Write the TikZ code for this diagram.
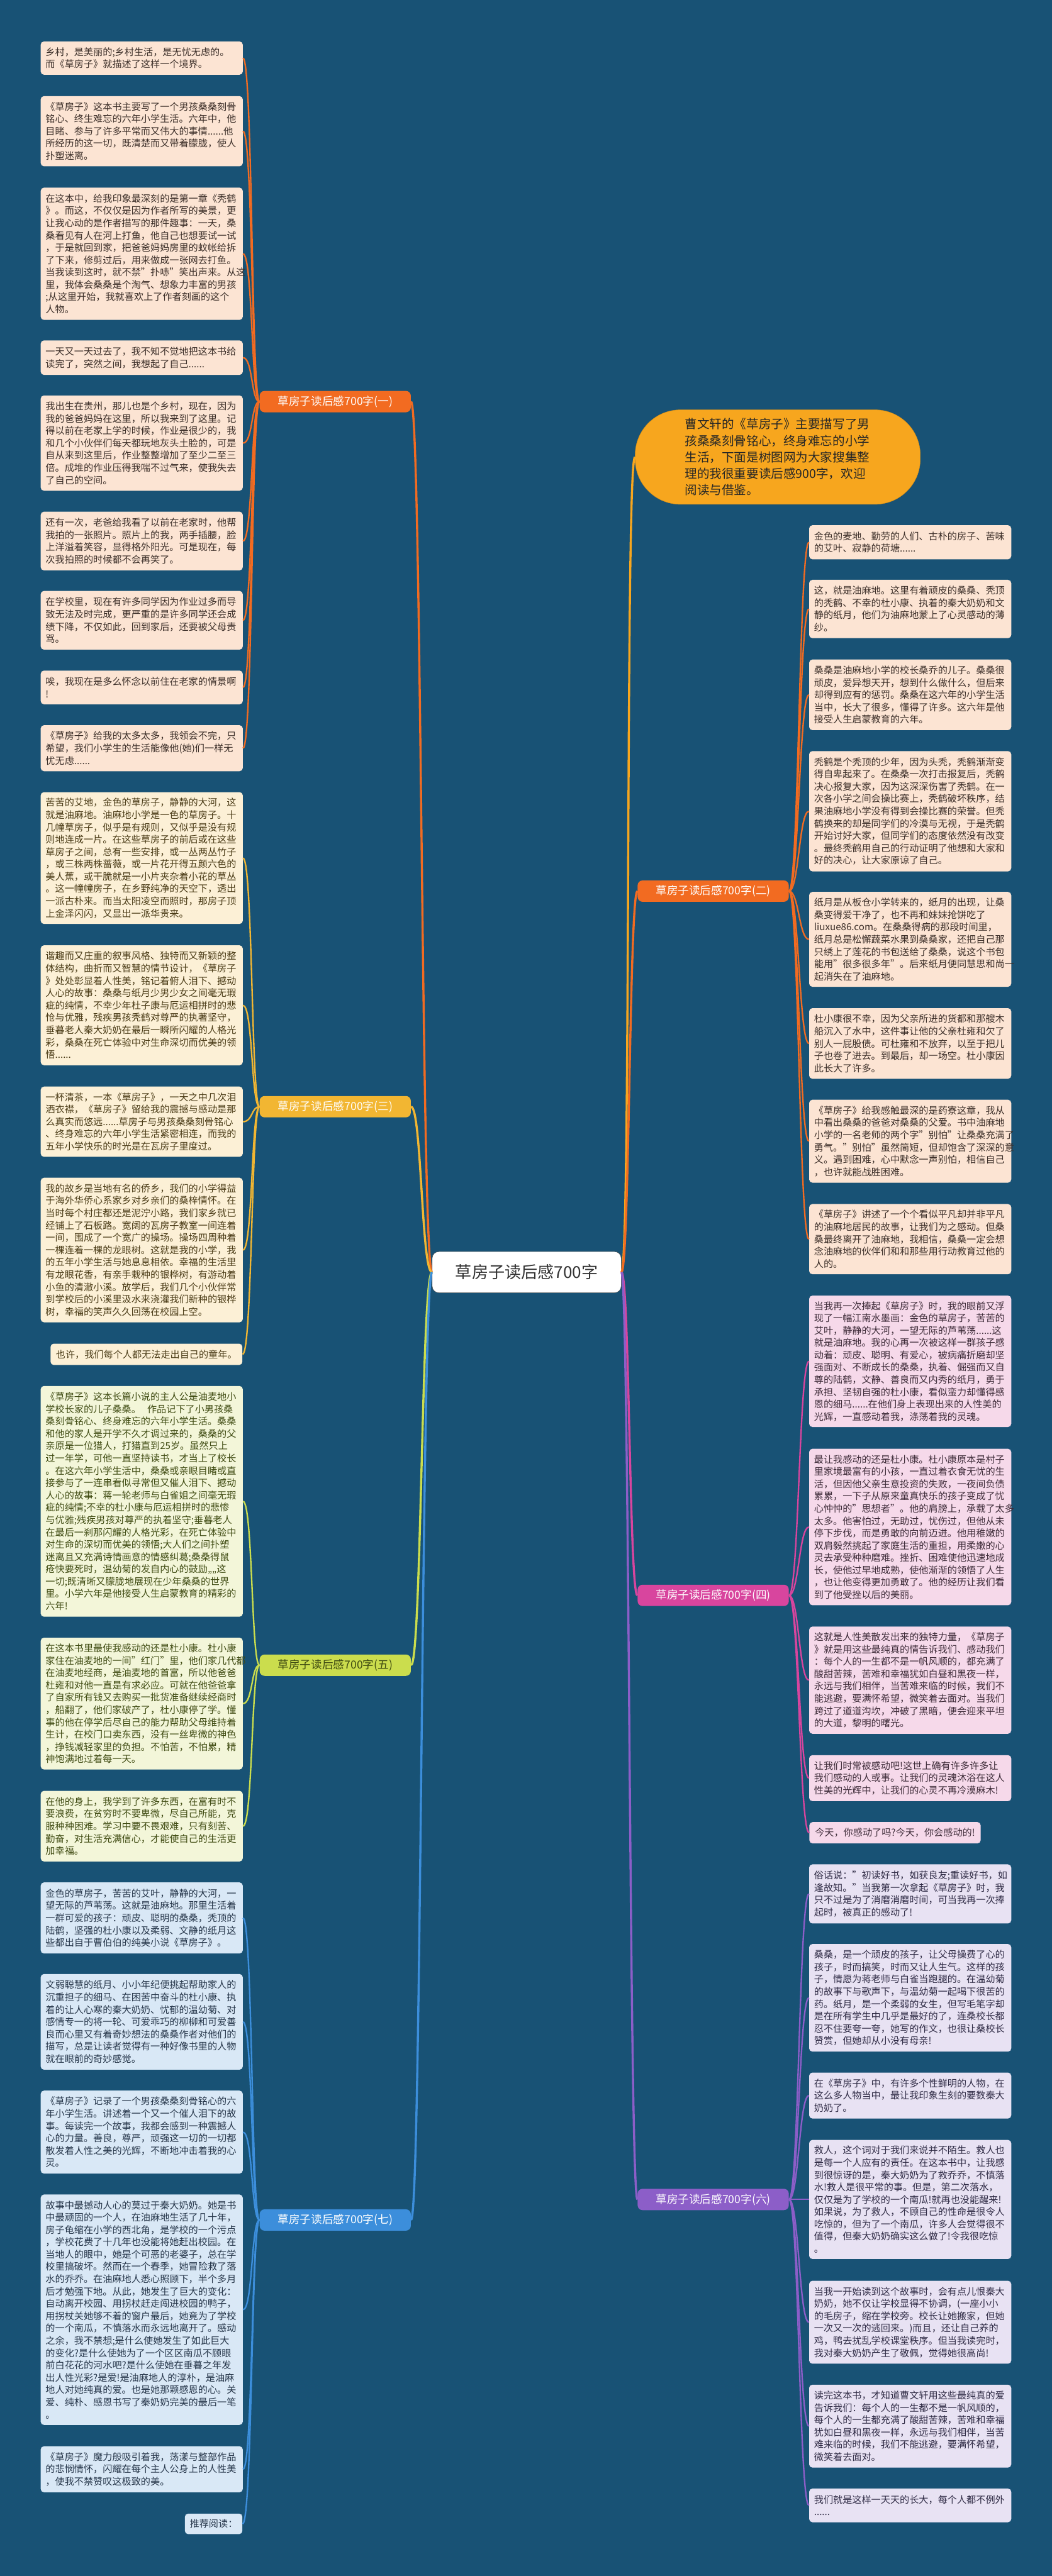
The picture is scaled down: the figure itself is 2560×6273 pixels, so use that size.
\documentclass[tikz,border=0pt]{standalone}
\usepackage{fontspec}
\setmainfont{Noto Sans CJK SC}
\definecolor{bgc}{HTML}{185275}
\definecolor{cO}{HTML}{F26B21}
\definecolor{cY}{HTML}{F2B632}
\definecolor{cG}{HTML}{CBDD4D}
\definecolor{cB}{HTML}{3C8EDB}
\definecolor{cP}{HTML}{D8459E}
\definecolor{cL}{HTML}{8C5EC8}
\definecolor{cI}{HTML}{F7A61E}
\definecolor{fO}{HTML}{FCE4D3}
\definecolor{fY}{HTML}{FCF0D6}
\definecolor{fG}{HTML}{F3F6D9}
\definecolor{fB}{HTML}{D9E8F6}
\definecolor{fP}{HTML}{F6D9EA}
\definecolor{fL}{HTML}{E8E2F3}
\definecolor{tO}{HTML}{3B2E28}
\definecolor{tY}{HTML}{4A3B16}
\definecolor{tG}{HTML}{3F4B12}
\definecolor{tB}{HTML}{26364A}
\definecolor{tP}{HTML}{3D2B38}
\definecolor{tL}{HTML}{2F2B45}
\tikzset{
  kid/.style={rounded corners=4pt, inner xsep=6pt, inner ysep=0pt,
    font=\fontsize{11.6pt}{15pt}\selectfont, text width=234pt, align=left},
  kidshort/.style={rounded corners=4pt, inner xsep=6pt, inner ysep=0pt,
    font=\fontsize{11.6pt}{15pt}\selectfont, align=center},
  kO/.style={fill=fO, text=tO},
  kY/.style={fill=fY, text=tY},
  kG/.style={fill=fG, text=tG},
  kB/.style={fill=fB, text=tB},
  kP/.style={fill=fP, text=tP},
  kL/.style={fill=fL, text=tL},
  branch/.style={rounded corners=6pt, minimum width=184pt, minimum height=26pt,
    inner sep=2pt, font=\fontsize{13.5pt}{16pt}\selectfont, text=white},
  lnk/.style={line width=1.8pt},
  trunk/.style={line width=2.6pt},
}
\newcommand\kidbox[7]{%
  \pgfmathsetmacro\kw{(#4-#3)*0.5}%
  \pgfmathsetmacro\kh{(#6-#5)*0.5}%
  \node[#2, minimum width=\kw pt, minimum height=\kh pt] (#1) at ({(#3+#4)/2},{(#5+#6)/2}) {#7};}
\begin{document}
\begin{tikzpicture}[x=0.5pt,y=-0.5pt]
\useasboundingbox (0,0) rectangle (2560,6273);
\fill[bgc] (0,0) rectangle (2560,6273);

% centre and intro
\node[draw=black!70, fill=white, rounded corners=8pt, minimum width=230pt, minimum height=50pt,
  font=\fontsize{20pt}{24pt}\selectfont, text=black!80] (c) at (1282,3098) {草房子读后感700字};
\node[draw=cI!85!black, fill=cI, rounded corners=55pt, minimum width=347pt, minimum height=115pt,
  text width=226pt, align=left, font=\fontsize{15pt}{20pt}\selectfont, text=black!85] (intro) at (1893,1113)
  {曹文轩的《草房子》主要描写了男\\孩桑桑刻骨铭心，终身难忘的小学\\生活，下面是树图网为大家搜集整\\理的我很重要读后感900字，欢迎\\阅读与借鉴。};

% branch nodes
\node[branch, fill=cO] (b1) at (816,978) {草房子读后感700字(一)};
\node[branch, fill=cY] (b3) at (816,2695) {草房子读后感700字(三)};
\node[branch, fill=cG, text=tG] (b5) at (816,4055) {草房子读后感700字(五)};
\node[branch, fill=cB] (b7) at (816,5406) {草房子读后感700字(七)};
\node[branch, fill=cO] (b2) at (1736,2170) {草房子读后感700字(二)};
\node[branch, fill=cP] (b4) at (1736,3885) {草房子读后感700字(四)};
\node[branch, fill=cL] (b6) at (1736,5356) {草房子读后感700字(六)};

% left children
\kidbox{l1}{kid,kO}{100}{590}{101}{182}{乡村，是美丽的;乡村生活，是无忧无虑的。\\而《草房子》就描述了这样一个境界。}
\kidbox{l2}{kid,kO}{100}{590}{234}{405}{《草房子》这本书主要写了一个男孩桑桑刻骨\\铭心、终生难忘的六年小学生活。六年中，他\\目睹、参与了许多平常而又伟大的事情......他\\所经历的这一切，既清楚而又带着朦胧，使人\\扑塑迷离。}
\kidbox{l3}{kid,kO}{100}{590}{457}{779}{在这本中，给我印象最深刻的是第一章《秃鹤\\》。而这，不仅仅是因为作者所写的美景，更\\让我心动的是作者描写的那件趣事：一天，桑\\桑看见有人在河上打鱼，他自己也想要试一试\\，于是就回到家，把爸爸妈妈房里的蚊帐给拆\\了下来，修剪过后，用来做成一张网去打鱼。\\当我读到这时，就不禁"扑哧"笑出声来。从这\\里，我体会桑桑是个淘气、想象力丰富的男孩\\;从这里开始，我就喜欢上了作者刻画的这个\\人物。}
\kidbox{l4}{kid,kO}{100}{590}{829}{913}{一天又一天过去了，我不知不觉地把这本书给\\读完了，突然之间，我想起了自己......}
\kidbox{l5}{kid,kO}{100}{590}{963}{1195}{我出生在贵州，那儿也是个乡村，现在，因为\\我的爸爸妈妈在这里，所以我来到了这里。记\\得以前在老家上学的时候，作业是很少的，我\\和几个小伙伴们每天都玩地灰头土脸的，可是\\自从来到这里后，作业整整增加了至少二至三\\倍。成堆的作业压得我喘不过气来，使我失去\\了自己的空间。}
\kidbox{l6}{kid,kO}{100}{590}{1246}{1389}{还有一次，老爸给我看了以前在老家时，他帮\\我拍的一张照片。照片上的我，两手插腰，脸\\上洋溢着笑容，显得格外阳光。可是现在，每\\次我拍照的时候都不会再笑了。}
\kidbox{l7}{kid,kO}{100}{590}{1439}{1582}{在学校里，现在有许多同学因为作业过多而导\\致无法及时完成，更严重的是许多同学还会成\\绩下降，不仅如此，回到家后，还要被父母责\\骂。}
\kidbox{l8}{kid,kO}{100}{590}{1633}{1715}{唉，我现在是多么怀念以前住在老家的情景啊\\!}
\kidbox{l9}{kid,kO}{100}{590}{1766}{1878}{《草房子》给我的太多太多，我领会不完，只\\希望，我们小学生的生活能像他(她)们一样无\\忧无虑......}
\kidbox{l10}{kid,kY}{100}{590}{1929}{2250}{苦苦的艾地，金色的草房子，静静的大河，这\\就是油麻地。油麻地小学是一色的草房子。十\\几幢草房子，似乎是有规则，又似乎是没有规\\则地连成一片。在这些草房子的前后或在这些\\草房子之间，总有一些安排，或一丛两丛竹子\\，或三株两株蔷薇，或一片花开得五颜六色的\\美人蕉，或干脆就是一小片夹杂着小花的草丛\\。这一幢幢房子，在乡野纯净的天空下，透出\\一派古朴来。而当太阳凌空而照时，那房子顶\\上金泽闪闪，又显出一派华贵来。}
\kidbox{l11}{kid,kY}{100}{590}{2302}{2594}{谐趣而又庄重的叙事风格、独特而又新颖的整\\体结构，曲折而又智慧的情节设计，《草房子\\》处处彰显着人性美，铭记着俯人泪下、撼动\\人心的故事：桑桑与纸月少男少女之间毫无瑕\\疵的纯情，不幸少年杜子康与厄运相拼时的悲\\怆与优雅，残疾男孩秃鹤对尊严的执著坚守，\\垂暮老人秦大奶奶在最后一瞬所闪耀的人格光\\彩，桑桑在死亡体验中对生命深切而优美的领\\悟......}
\kidbox{l12}{kid,kY}{100}{590}{2646}{2817}{一杯清茶，一本《草房子》，一天之中几次泪\\洒衣襟，《草房子》留给我的震撼与感动是那\\么真实而悠远......草房子与男孩桑桑刻骨铭心\\、终身难忘的六年小学生活紧密相连，而我的\\五年小学快乐的时光是在瓦房子里度过。}
\kidbox{l13}{kid,kY}{100}{590}{2868}{3220}{我的故乡是当地有名的侨乡，我们的小学得益\\于海外华侨心系家乡对乡亲们的桑梓情怀。在\\当时每个村庄都还是泥泞小路，我们家乡就已\\经铺上了石板路。宽阔的瓦房子教室一间连着\\一间，围成了一个宽广的操场。操场四周种着\\一棵连着一棵的龙眼树。这就是我的小学，我\\的五年小学生活与她息息相依。幸福的生活里\\有龙眼花香，有亲手栽种的银桦树，有游动着\\小鱼的清澈小溪。放学后，我们几个小伙伴常\\到学校后的小溪里汲水来浇灌我们新种的银桦\\树，幸福的笑声久久回荡在校园上空。}
\kidbox{l14}{kidshort,kY}{123}{590}{3272}{3324}{也许，我们每个人都无法走出自己的童年。}
\kidbox{l15}{kid,kG}{100}{590}{3375}{3937}{《草房子》这本长篇小说的主人公是油麦地小\\学校长家的儿子桑桑。\ \ 作品记下了小男孩桑\\桑刻骨铭心、终身难忘的六年小学生活。桑桑\\和他的家人是开学不久才调过来的，桑桑的父\\亲原是一位猎人，打猎直到25岁。虽然只上\\过一年学，可他一直坚持读书，才当上了校长\\。在这六年小学生活中，桑桑或亲眼目睹或直\\接参与了一连串看似寻常但又催人泪下、撼动\\人心的故事：蒋一轮老师与白雀姐之间毫无瑕\\疵的纯情;不幸的杜小康与厄运相拼时的悲惨\\与优雅;残疾男孩对尊严的执着坚守;垂暮老人\\在最后一刹那闪耀的人格光彩，在死亡体验中\\对生命的深切而优美的领悟;大人们之间扑塑\\迷离且又充满诗情画意的情感纠葛;桑桑得鼠\\疮快要死时，温幼菊的发自内心的鼓励,,,,这\\一切;既清晰又朦胧地展现在少年桑桑的世界\\里。小学六年是他接受人生启蒙教育的精彩的\\六年!}
\kidbox{l16}{kid,kG}{100}{590}{3988}{4309}{在这本书里最使我感动的还是杜小康。杜小康\\家住在油麦地的一间"红门"里，他们家几代都\\在油麦地经商，是油麦地的首富，所以他爸爸\\杜雍和对他一直是有求必应。可就在他爸爸拿\\了自家所有钱又去购买一批货准备继续经商时\\，船翻了，他们家破产了，杜小康停了学。懂\\事的他在停学后尽自己的能力帮助父母维持着\\生计，在校门口卖东西，没有一丝卑微的神色\\，挣钱减轻家里的负担。不怕苦，不怕累，精\\神饱满地过着每一天。}
\kidbox{l17}{kid,kG}{100}{590}{4361}{4533}{在他的身上，我学到了许多东西，在富有时不\\要浪费，在贫穷时不要卑微，尽自己所能，克\\服种种困难。学习中要不畏艰难，只有刻苦、\\勤奋，对生活充满信心，才能使自己的生活更\\加幸福。}
\kidbox{l18}{kid,kB}{100}{590}{4584}{4757}{金色的草房子，苦苦的艾叶，静静的大河，一\\望无际的芦苇荡。这就是油麻地。那里生活着\\一群可爱的孩子：顽皮、聪明的桑桑，秃顶的\\陆鹤，坚强的杜小康以及柔弱、文静的纸月这\\些都出自于曹伯伯的纯美小说《草房子》。}
\kidbox{l19}{kid,kB}{100}{590}{4807}{5040}{文弱聪慧的纸月、小小年纪便挑起帮助家人的\\沉重担子的细马、在困苦中奋斗的杜小康、执\\着的让人心寒的秦大奶奶、忧郁的温幼菊、对\\感情专一的将一轮、可爱乖巧的柳柳和可爱善\\良而心里又有着奇妙想法的桑桑作者对他们的\\描写，总是让读者觉得有一种好像书里的人物\\就在眼前的奇妙感觉。}
\kidbox{l20}{kid,kB}{100}{590}{5091}{5293}{《草房子》记录了一个男孩桑桑刻骨铭心的六\\年小学生活。讲述着一个又一个催人泪下的故\\事。每读完一个故事，我都会感到一种震撼人\\心的力量。善良，尊严，顽强这一切的一切都\\散发着人性之美的光辉，不断地冲击着我的心\\灵。}
\kidbox{l21}{kid,kB}{100}{590}{5344}{5905}{故事中最撼动人心的莫过于秦大奶奶。她是书\\中最顽固的一个人，在油麻地生活了几十年，\\房子龟缩在小学的西北角，是学校的一个污点\\，学校花费了十几年也没能将她赶出校园。在\\当地人的眼中，她是个可恶的老婆子，总在学\\校里搞破坏。然而在一个春季，她冒险救了落\\水的乔乔。在油麻地人悉心照顾下，半个多月\\后才勉强下地。从此，她发生了巨大的变化：\\自动离开校园、用拐杖赶走闯进校园的鸭子，\\用拐杖关她够不着的窗户最后，她竟为了学校\\的一个南瓜，不慎落水而永远地离开了。感动\\之余，我不禁想;是什么使她发生了如此巨大\\的变化?是什么使她为了一个区区南瓜不顾眼\\前白花花的河水吧?是什么使她在垂暮之年发\\出人性光彩?是爱!是油麻地人的淳朴，是油麻\\地人对她纯真的爱。也是她那颗感恩的心。关\\爱、纯朴、感恩书写了秦奶奶完美的最后一笔\\。}
\kidbox{l22}{kid,kB}{100}{590}{5957}{6069}{《草房子》魔力般吸引着我，荡漾与整部作品\\的悲悯情怀，闪耀在每个主人公身上的人性美\\，使我不禁赞叹这极致的美。}
\kidbox{l23}{kidshort,kB}{450}{590}{6121}{6171}{推荐阅读：}

% right children
\kidbox{r1}{kid,kO}{1970}{2461}{1279}{1362}{金色的麦地、勤劳的人们、古朴的房子、苦味\\的艾叶、寂静的荷塘......}
\kidbox{r2}{kid,kO}{1970}{2461}{1412}{1554}{这，就是油麻地。这里有着顽皮的桑桑、秃顶\\的秃鹤、不幸的杜小康、执着的秦大奶奶和文\\静的纸月，他们为油麻地蒙上了心灵感动的薄\\纱。}
\kidbox{r3}{kid,kO}{1970}{2461}{1606}{1778}{桑桑是油麻地小学的校长桑乔的儿子。桑桑很\\顽皮，爱异想天开，想到什么做什么，但后来\\却得到应有的惩罚。桑桑在这六年的小学生活\\当中，长大了很多，懂得了许多。这六年是他\\接受人生启蒙教育的六年。}
\kidbox{r4}{kid,kO}{1970}{2461}{1829}{2122}{秃鹤是个秃顶的少年，因为头秃，秃鹤渐渐变\\得自卑起来了。在桑桑一次打击报复后，秃鹤\\决心报复大家，因为这深深伤害了秃鹤。在一\\次各小学之间会操比赛上，秃鹤破坏秩序，结\\果油麻地小学没有得到会操比赛的荣誉。但秃\\鹤换来的却是同学们的冷漠与无视，于是秃鹤\\开始讨好大家，但同学们的态度依然没有改变\\。最终秃鹤用自己的行动证明了他想和大家和\\好的决心，让大家原谅了自己。}
\kidbox{r5}{kid,kO}{1970}{2461}{2172}{2403}{纸月是从板仓小学转来的，纸月的出现，让桑\\桑变得爱干净了，也不再和妹妹抢饼吃了\\liuxue86.com。在桑桑得病的那段时间里，\\纸月总是松懈蔬菜水果到桑桑家，还把自己那\\只绣上了莲花的书包送给了桑桑，说这个书包\\能用"很多很多年"。后来纸月便同慧思和尚一\\起消失在了油麻地。}
\kidbox{r6}{kid,kO}{1970}{2461}{2455}{2627}{杜小康很不幸，因为父亲所进的货都和那艘木\\船沉入了水中，这件事让他的父亲杜雍和欠了\\别人一屁股债。可杜雍和不放弃，以至于把儿\\子也卷了进去。到最后，却一场空。杜小康因\\此长大了许多。}
\kidbox{r7}{kid,kO}{1970}{2461}{2678}{2880}{《草房子》给我感触最深的是药寮这章，我从\\中看出桑桑的爸爸对桑桑的父爱。书中油麻地\\小学的一名老师的两个字"别怕"让桑桑充满了\\勇气。"别怕"虽然简短，但却饱含了深深的意\\义。遇到困难，心中默念一声别怕，相信自己\\，也许就能战胜困难。}
\kidbox{r8}{kid,kO}{1970}{2461}{2932}{3103}{《草房子》讲述了一个个看似平凡却并非平凡\\的油麻地居民的故事，让我们为之感动。但桑\\桑最终离开了油麻地，我相信，桑桑一定会想\\念油麻地的伙伴们和和那些用行动教育过他的\\人的。}
\kidbox{r9}{kid,kP}{1970}{2461}{3155}{3475}{当我再一次捧起《草房子》时，我的眼前又浮\\现了一幅江南水墨画：金色的草房子，苦苦的\\艾叶，静静的大河，一望无际的芦苇荡......这\\就是油麻地。我的心再一次被这样一群孩子感\\动着：顽皮、聪明、有爱心，被病痛折磨却坚\\强面对、不断成长的桑桑，执着、倔强而又自\\尊的陆鹤，文静、善良而又内秀的纸月，勇于\\承担、坚韧自强的杜小康，看似蛮力却懂得感\\恩的细马......在他们身上表现出来的人性美的\\光辉，一直感动着我，涤荡着我的灵魂。}
\kidbox{r10}{kid,kP}{1970}{2461}{3528}{3909}{最让我感动的还是杜小康。杜小康原本是村子\\里家境最富有的小孩，一直过着衣食无忧的生\\活，但因他父亲生意投资的失败，一夜间负债\\累累，一下子从原来童真快乐的孩子变成了忧\\心忡忡的"思想者"。他的肩膀上，承载了太多\\太多。他害怕过，无助过，忧伤过，但他从未\\停下步伐，而是勇敢的向前迈进。他用稚嫩的\\双肩毅然挑起了家庭生活的重担，用柔嫩的心\\灵去承受种种磨难。挫折、困难使他迅速地成\\长，使他过早地成熟，使他渐渐的领悟了人生\\，也让他变得更加勇敢了。他的经历让我们看\\到了他受挫以后的美丽。}
\kidbox{r11}{kid,kP}{1970}{2461}{3961}{4222}{这就是人性美散发出来的独特力量，《草房子\\》就是用这些最纯真的情告诉我们、感动我们\\：每个人的一生都不是一帆风顺的，都充满了\\酸甜苦辣，苦难和幸福犹如白昼和黑夜一样，\\永远与我们相伴，当苦难来临的时候，我们不\\能逃避，要满怀希望，微笑着去面对。当我们\\跨过了道道沟坎，冲破了黑暗，便会迎来平坦\\的大道，黎明的曙光。}
\kidbox{r12}{kid,kP}{1970}{2461}{4274}{4386}{让我们时常被感动吧!这世上确有许多许多让\\我们感动的人或事。让我们的灵魂沐浴在这人\\性美的光辉中，让我们的心灵不再冷漠麻木!}
\kidbox{r13}{kidshort,kP}{1970}{2387}{4437}{4489}{今天，你感动了吗?今天，你会感动的!}
\kidbox{r14}{kid,kL}{1970}{2461}{4540}{4684}{俗话说："初读好书，如获良友;重读好书，如\\逢故知。"当我第一次拿起《草房子》时，我\\只不过是为了消磨消磨时间，可当我再一次捧\\起时，被真正的感动了!}
\kidbox{r15}{kid,kL}{1970}{2461}{4734}{4996}{桑桑，是一个顽皮的孩子，让父母操费了心的\\孩子，时而搞笑，时而又让人生气。这样的孩\\子，情愿为蒋老师与白雀当跑腿的。在温幼菊\\的故事下与歌声下，与温幼菊一起喝下很苦的\\药。纸月，是一个柔弱的女生，但写毛笔字却\\是在所有学生中几乎是最好的了，连桑校长都\\忍不住要夸一夸，她写的作文，也很让桑校长\\赞赏，但她却从小没有母亲!}
\kidbox{r16}{kid,kL}{1970}{2461}{5047}{5159}{在《草房子》中，有许多个性鲜明的人物，在\\这么多人物当中，最让我印象生刻的要数秦大\\奶奶了。}
\kidbox{r17}{kid,kL}{1970}{2461}{5211}{5501}{救人，这个词对于我们来说并不陌生。救人也\\是每一个人应有的责任。在这本书中，让我感\\到很惊讶的是，秦大奶奶为了救乔乔，不慎落\\水!救人是很平常的事。但是，第二次落水，\\仅仅是为了学校的一个南瓜!就再也没能醒来!\\如果说，为了救人，不顾自己的性命是很令人\\吃惊的，但为了一个南瓜，许多人会觉得很不\\值得，但秦大奶奶确实这么做了!令我很吃惊\\。}
\kidbox{r18}{kid,kL}{1970}{2461}{5554}{5756}{当我一开始读到这个故事时，会有点儿恨秦大\\奶奶，她不仅让学校显得不协调，(一座小小\\的毛房子，缩在学校旁。校长让她搬家，但她\\一次又一次的逃回来。)而且，还让自己养的\\鸡，鸭去扰乱学校课堂秩序。但当我读完时，\\我对秦大奶奶产生了敬佩，觉得她很高尚!}
\kidbox{r19}{kid,kL}{1970}{2461}{5807}{6009}{读完这本书，才知道曹文轩用这些最纯真的爱\\告诉我们：每个人的一生都不是一帆风顺的，\\每个人的一生都充满了酸甜苦辣，苦难和幸福\\犹如白昼和黑夜一样，永远与我们相伴，当苦\\难来临的时候，我们不能逃避，要满怀希望，\\微笑着去面对。}
\kidbox{r20}{kid,kL}{1970}{2461}{6060}{6142}{我们就是这样一天天的长大，每个人都不例外\\......}

% connectors: centre to branches
\draw[trunk, cI] (c.east) .. controls +(24,0) and +(-24,0) .. (intro.west);
\foreach \b/\col in {b1/cO, b3/cY, b5/cG, b7/cB}
  \draw[trunk, \col] (c.west) .. controls +(-26,0) and +(26,0) .. (\b.east);
\foreach \b/\col in {b2/cO, b4/cP, b6/cL}
  \draw[trunk, \col] (c.east) .. controls +(20,0) and +(-20,0) .. (\b.west);

% connectors: branches to children (left)
\foreach \k in {l1,l2,l3,l4,l5,l6,l7,l8,l9}
  \draw[lnk, cO] (b1.west) .. controls +(-20,0) and +(24,0) .. (\k.east);
\foreach \k in {l10,l11,l12,l13,l14}
  \draw[lnk, cY] (b3.west) .. controls +(-20,0) and +(24,0) .. (\k.east);
\foreach \k in {l15,l16,l17}
  \draw[lnk, cG] (b5.west) .. controls +(-20,0) and +(24,0) .. (\k.east);
\foreach \k in {l18,l19,l20,l21,l22,l23}
  \draw[lnk, cB] (b7.west) .. controls +(-20,0) and +(24,0) .. (\k.east);

% connectors: branches to children (right)
\foreach \k in {r1,r2,r3,r4,r5,r6,r7,r8}
  \draw[lnk, cO] (b2.east) .. controls +(24,0) and +(-24,0) .. (\k.west);
\foreach \k in {r9,r10,r11,r12,r13}
  \draw[lnk, cP] (b4.east) .. controls +(24,0) and +(-24,0) .. (\k.west);
\foreach \k in {r14,r15,r16,r17,r18,r19,r20}
  \draw[lnk, cL] (b6.east) .. controls +(24,0) and +(-24,0) .. (\k.west);
\end{tikzpicture}
\end{document}
